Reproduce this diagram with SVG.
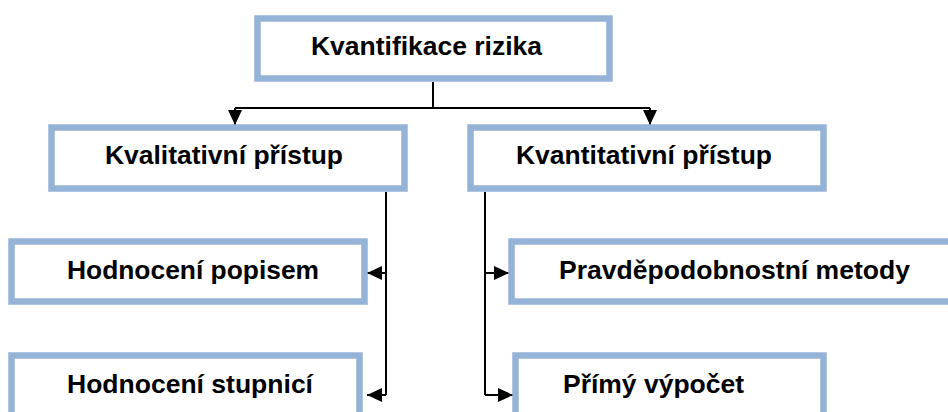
<svg xmlns="http://www.w3.org/2000/svg" width="948" height="412" viewBox="0 0 948 412">
<style>
.box{fill:#ffffff;stroke:#95B3D7;stroke-width:6.5}
.lbl{font-family:"Liberation Sans",Arial,sans-serif;font-weight:bold;font-size:26px;fill:#000000}
.conn{fill:none;stroke:#000000;stroke-width:2}
</style>
<defs>
<marker id="ah" markerUnits="userSpaceOnUse" markerWidth="16" markerHeight="14" refX="15" refY="7" orient="auto">
<path d="M0,0 L15,7 L0,14 Z" fill="#000000"/>
</marker>
</defs>
<g id="connectors">
<path class="conn" d="M433,82 V108"/>
<path class="conn" d="M235,108 H650"/>
<path class="conn" d="M235,108 V125" marker-end="url(#ah)"/>
<path class="conn" d="M650,108 V125" marker-end="url(#ah)"/>
<path class="conn" d="M386,192 V395"/>
<path class="conn" d="M386,273 H367" marker-end="url(#ah)"/>
<path class="conn" d="M386,395 H367" marker-end="url(#ah)"/>
<path class="conn" d="M485,192 V395"/>
<path class="conn" d="M485,273 H509" marker-end="url(#ah)"/>
<path class="conn" d="M485,395 H513" marker-end="url(#ah)"/>
</g>
<g id="n-kvantifikace">
<rect class="box" x="257.5" y="18.5" width="352" height="60"/>
<text class="lbl" x="311" y="55" textLength="231" lengthAdjust="spacingAndGlyphs">Kvantifikace rizika</text>
</g>
<g id="n-kvalitativni">
<rect class="box" x="51.5" y="127.5" width="353" height="61"/>
<text class="lbl" x="105" y="164" textLength="238" lengthAdjust="spacingAndGlyphs">Kvalitativní přístup</text>
</g>
<g id="n-kvantitativni">
<rect class="box" x="470.5" y="127.5" width="353" height="61"/>
<text class="lbl" x="516" y="164" textLength="256" lengthAdjust="spacingAndGlyphs">Kvantitativní přístup</text>
</g>
<g id="n-popisem">
<rect class="box" x="11.5" y="241.5" width="353" height="60"/>
<text class="lbl" x="67" y="279" textLength="252" lengthAdjust="spacingAndGlyphs">Hodnocení popisem</text>
</g>
<g id="n-stupnici">
<rect class="box" x="11.5" y="355.5" width="348" height="70"/>
<text class="lbl" x="67" y="393" textLength="246" lengthAdjust="spacingAndGlyphs">Hodnocení stupnicí</text>
</g>
<g id="n-pravdepodobnostni">
<rect class="box" x="511.5" y="241.5" width="450" height="60"/>
<text class="lbl" x="559" y="279" textLength="351" lengthAdjust="spacingAndGlyphs">Pravděpodobnostní metody</text>
</g>
<g id="n-primy">
<rect class="box" x="515.5" y="355.5" width="308" height="70"/>
<text class="lbl" x="563" y="393" textLength="181" lengthAdjust="spacingAndGlyphs">Přímý výpočet</text>
</g>
</svg>
